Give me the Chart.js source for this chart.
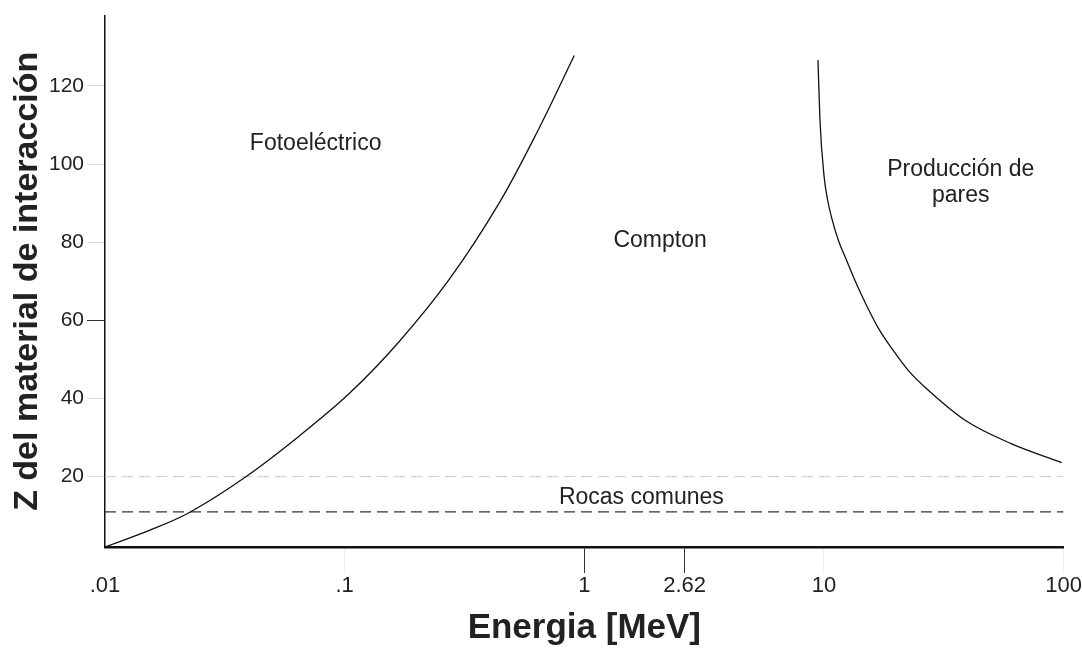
<!DOCTYPE html>
<html>
<head>
<meta charset="utf-8">
<script src="https://cdn.jsdelivr.net/npm/chart.js@4/dist/chart.umd.min.js"></script>
<style>
  html, body { margin: 0; padding: 0; background: #fff; }
  canvas { display: block; }
</style>
</head>
<body>
<canvas id="myChart" width="1082" height="649"></canvas>
<script>
// energy ticks (MeV) and their labels
const energyTicks = [0.01, 0.1, 1, 2.62, 10, 100];
const energyLabels = ['.01', '.1', '1', '2.62', '10', '100'];
const zTicks = [20, 40, 60, 80, 100, 120];

// photoelectric / compton boundary
const photoE = [0.01, 0.0154, 0.0226, 0.0383, 0.0649, 0.105, 0.169, 0.274, 0.443, 0.649, 0.908];
const photoZ = [2.0, 6.3, 10.9, 19.8, 30.5, 41.4, 54.6, 70.6, 90.2, 109.3, 127.8];

// compton / pair production boundary
const pairE = [9.44, 9.62, 10.0, 10.34, 10.8, 11.5, 12.4, 13.6, 15.0, 16.9, 19.2, 22.6, 26.6, 39.1, 60.7, 98.1];
const pairZ = [126.6, 111.3, 97.1, 91.0, 85.9, 80.4, 75.5, 69.6, 64.0, 57.9, 52.8, 47.0, 42.7, 34.3, 28.4, 23.6];

// horizontal reference levels
const rocasZ = 11;
const refZ = 20;

// region names [text, energy, Z]
const regionLabels = [
    ['Fotoeléctrico', 0.0757, 105.2],
    ['Compton', 2.07, 80.5],
    ['Producción de', 37.2, 98.6],
    ['pares', 37.2, 92.0],
    ['Rocas comunes', 1.73, 14.7]
];

const toPoints = (xs, ys) => xs.map((x, i) => ({x: x, y: ys[i]}));
const FONT = '"Liberation Sans", Arial, sans-serif';

const regionText = {
    id: 'regionText',
    afterDatasetsDraw(chart) {
        const c = chart.ctx;
        const sx = chart.scales.x, sy = chart.scales.y;
        c.save();
        c.font = '23px ' + FONT;
        c.fillStyle = '#222';
        c.textAlign = 'center';
        c.textBaseline = 'middle';
        regionLabels.forEach(r => {
            c.fillText(r[0], sx.getPixelForValue(r[1]), sy.getPixelForValue(r[2]));
        });
        c.restore();
    }
};

new Chart(document.getElementById('myChart'), {
    type: 'line',
    data: {
        datasets: [
            {data: toPoints(photoE, photoZ), borderColor: '#111', borderWidth: 1.3, pointRadius: 0, tension: 0.35},
            {data: toPoints(pairE, pairZ), borderColor: '#111', borderWidth: 1.3, pointRadius: 0, cubicInterpolationMode: 'monotone'},
            {data: toPoints([0.01, 100], [rocasZ, rocasZ]), borderColor: '#333', borderWidth: 1.2, borderDash: [11, 6], pointRadius: 0},
            {data: toPoints([0.01, 100], [refZ, refZ]), borderColor: '#ccc', borderWidth: 1, borderDash: [11, 6], pointRadius: 0}
        ]
    },
    options: {
        responsive: false,
        animation: false,
        devicePixelRatio: 1,
        layout: {padding: {top: 12, right: 17, left: 0, bottom: 0}},
        plugins: {legend: {display: false}, tooltip: {enabled: false}},
        scales: {
            x: {
                type: 'logarithmic',
                min: 0.01,
                max: 100,
                afterBuildTicks: axis => { axis.ticks = energyTicks.map(v => ({value: v})); },
                afterFit: axis => { axis.height = 102; },
                ticks: {
                    autoSkip: false,
                    maxRotation: 0,
                    padding: 0,
                    color: '#222',
                    font: {family: FONT, size: 22},
                    callback: (v, i) => energyLabels[i]
                },
                grid: {
                    drawOnChartArea: false,
                    tickLength: 26,
                    tickWidth: 1,
                    tickColor: ctx => {
                        const v = ctx.tick ? ctx.tick.value : 0;
                        if (v === 0.01) return 'rgba(0,0,0,0)';
                        return (v === 1 || v === 2.62) ? '#333' : '#eee';
                    }
                },
                border: {color: '#111', width: 2.5},
                title: {
                    display: true,
                    text: 'Energia [MeV]',
                    color: '#222',
                    font: {family: FONT, size: 35, weight: 'bold'},
                    padding: {top: 0, bottom: 0}
                }
            },
            y: {
                min: 2,
                max: 138,
                afterBuildTicks: axis => { axis.ticks = zTicks.map(v => ({value: v})); },
                afterFit: axis => { axis.width = 105; },
                ticks: {
                    padding: 3,
                    color: '#222',
                    font: {family: FONT, size: 21}
                },
                grid: {
                    drawOnChartArea: false,
                    tickLength: 18,
                    tickColor: ctx => (ctx.tick && ctx.tick.value === 60) ? '#333' : '#ddd'
                },
                border: {color: '#111', width: 1.5},
                title: {
                    display: true,
                    text: 'Z del material de interacción',
                    color: '#222',
                    font: {family: FONT, size: 34, weight: 'bold'},
                    padding: {top: 7, bottom: 0}
                }
            }
        }
    },
    plugins: [regionText]
});
</script>
</body>
</html>
